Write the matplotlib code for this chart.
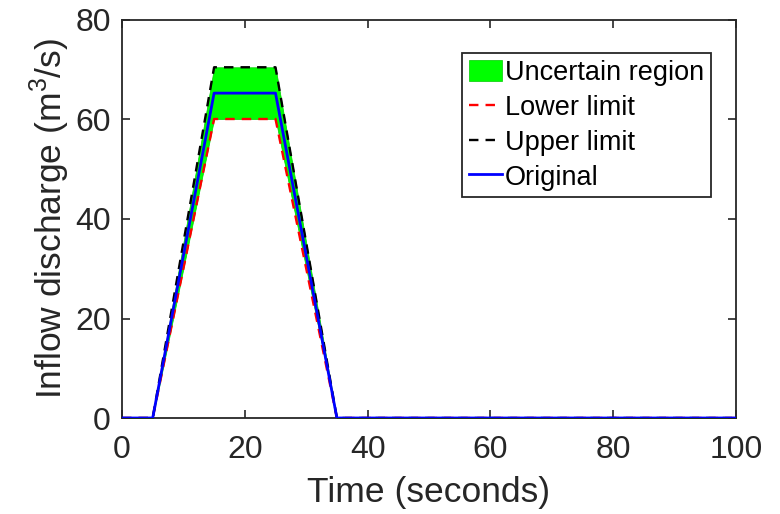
import matplotlib
matplotlib.use("Agg")
import matplotlib.pyplot as plt

time = [0, 5, 15, 25, 35, 100]
original = [0, 0, 65.3, 65.3, 0, 0]
lower = [0, 0, 60.1, 60.1, 0, 0]
upper = [0, 0, 70.5, 70.5, 0, 0]

xticks = [0, 20, 40, 60, 80, 100]
yticks = [0, 20, 40, 60, 80]

plt.rcParams['font.family'] = ['Liberation Sans', 'DejaVu Sans']
plt.rcParams['mathtext.fontset'] = 'custom'
plt.rcParams['mathtext.rm'] = 'Liberation Sans'
fig = plt.figure(figsize=(7.8, 5.14), dpi=100)
ax = fig.add_axes([122/780, 1 - 418/514, (736-122)/780, (418-20)/514])

ax.fill_between(time, lower, upper, color='#00FF00', edgecolor='#00CC00', linewidth=0.5,
                label='Uncertain region', zorder=1)
ax.plot(time, lower, color='#FF0000', linestyle='--', dashes=(4, 3), linewidth=1.7,
        label='Lower limit', zorder=2)
ax.plot(time, upper, color='#000000', linestyle='--', dashes=(4, 3), linewidth=1.7,
        label='Upper limit', zorder=3)
ax.plot(time, original, color='#0000FF', linewidth=2.0, label='Original', zorder=4)

ax.set_xlim(0, 100)
ax.set_ylim(0, 80)
ax.set_xticks(xticks)
ax.set_yticks(yticks)
ax.tick_params(direction='in', length=6, width=1.2, top=True, right=True,
               labelsize=23, colors='#262626')
ax.tick_params(axis='x', pad=12)
ax.tick_params(axis='y', pad=8)
for s in ax.spines.values():
    s.set_color('#262626')
    s.set_linewidth(1.3)

ax.set_xlabel('Time (seconds)', fontsize=25.5, color='#262626', labelpad=8)
ax.set_ylabel('Inflow discharge (m$^{\\mathrm{3}}$/s)', fontsize=25.5, color='#262626', labelpad=2)

leg = ax.legend(loc='upper right', bbox_to_anchor=(0.959, 0.917), borderaxespad=0,
                fancybox=False, edgecolor='#262626', fontsize=19.5, handlelength=1.2,
                handleheight=0.85, handletextpad=0.12, labelspacing=0.32, borderpad=0.25,
                framealpha=1)
leg.get_frame().set_linewidth(1.3)

fig.savefig('out.png', dpi=100)
